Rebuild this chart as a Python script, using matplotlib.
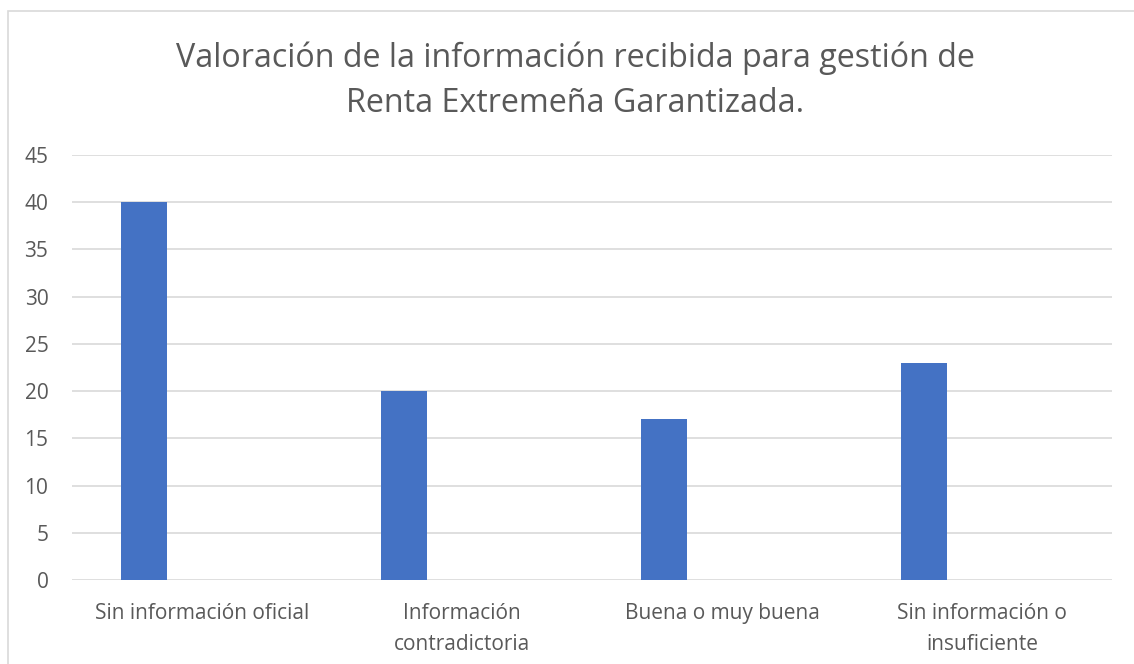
import numpy as np
import matplotlib
matplotlib.use("Agg")
import matplotlib.pyplot as plt
from matplotlib.patches import Rectangle

categories = ["Sin información oficial", "Información\ncontradictoria",
              "Buena o muy buena", "Sin información o\ninsuficiente"]
values = [40, 20, 17, 23]
yticks = [0, 5, 10, 15, 20, 25, 30, 35, 40, 45]
title = "Valoración de la información recibida para gestión de\nRenta Extremeña Garantizada."

plt.rcParams["font.family"] = ["Open Sans", "DejaVu Sans"]
TXT = "#595959"
GRID = "#D9D9D9"
W, H = 1134, 664

fig = plt.figure(figsize=(W / 100, H / 100), dpi=100)
ax = fig.add_axes([72 / W, 1 - 580 / H, 1040 / W, 425 / H])

x = np.arange(len(categories))
# bars sit to the left of each category slot (excel clustered layout)
ax.bar(x - 0.223, values, width=0.177, color="#4472C4", zorder=3)

ax.set_xlim(-0.5, len(categories) - 0.5)
ax.set_ylim(0, 45)
ax.set_yticks(yticks)
ax.set_xticks(x)
ax.set_xticklabels(categories, linespacing=1.65)
ax.tick_params(axis="both", length=0, colors=TXT, labelsize=15)
ax.tick_params(axis="y", pad=17)
ax.tick_params(axis="x", pad=16.5)
ax.grid(axis="y", color=GRID, lw=1.2, zorder=0)
for s in ax.spines.values():
    s.set_visible(False)

fig.text(575 / W, 1 - 81 / H, title, ha="center", va="center",
         fontsize=23.2, color=TXT, linespacing=1.5)

# chart frame (left and top edges visible in the crop)
fig.patches.append(Rectangle((8 / W, -0.1), 1.2, 1.1 - 10.5 / H,
                             transform=fig.transFigure, fill=False, ec=GRID, lw=1.2))

fig.savefig("out.png", dpi=100)
